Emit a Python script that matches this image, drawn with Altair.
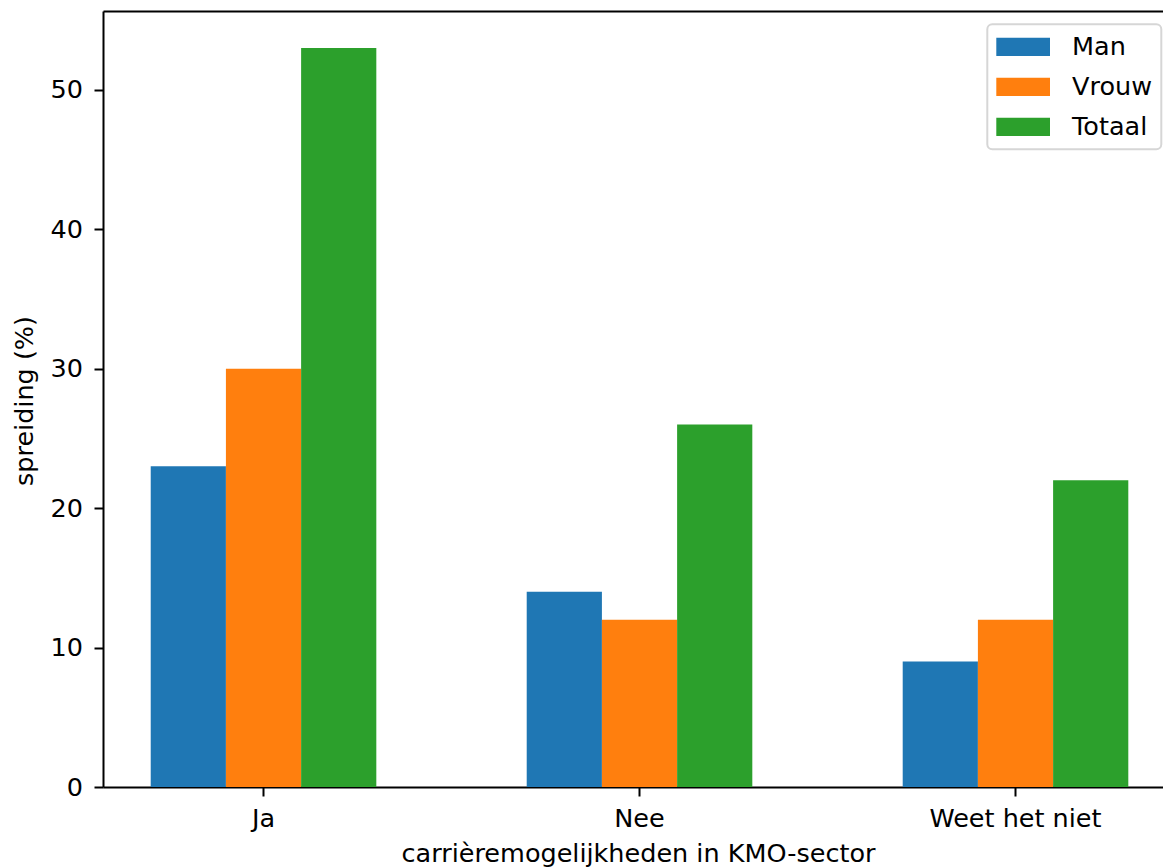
import altair as alt
import pandas as pd

categories = ["Ja", "Nee", "Weet het niet"]
series = ["Man", "Vrouw", "Totaal"]
man = [23, 14, 9]
vrouw = [30, 12, 12]
totaal = [53, 26, 22]
colors = ["#1f77b4", "#ff7f0e", "#2ca02c"]
y_ticks = [0, 10, 20, 30, 40, 50]

rows = []
for s, vals in zip(series, [man, vrouw, totaal]):
    for c, v in zip(categories, vals):
        rows.append({"cat": c, "serie": s, "val": v})
df = pd.DataFrame(rows)

W, H = 1060, 776
FONT = "DejaVu Sans"
FS = 25.5

xscale = alt.Scale(paddingInner=0.4, paddingOuter=0.1096, align=0.579)

bars = alt.Chart(df).mark_bar().encode(
    x=alt.X(
        "cat:N",
        sort=categories,
        scale=xscale,
        axis=alt.Axis(
            title="carrièremogelijkheden in KMO-sector",
            labelAngle=0,
            labelBaseline="alphabetic",
            labelPadding=30,
            tickSize=9,
            tickWidth=2,
            tickColor="black",
            domainColor="black",
            domainWidth=2,
            labelFontSize=FS,
            titleFontSize=FS,
            titleBaseline="alphabetic",
            titleY=74,
            titleX=535,
        ),
    ),
    xOffset=alt.XOffset("serie:N", sort=series),
    y=alt.Y(
        "val:Q",
        scale=alt.Scale(domain=[0, 55.65], nice=False, zero=True),
        axis=alt.Axis(
            title="spreiding (%)",
            values=y_ticks,
            grid=False,
            tickSize=9,
            tickWidth=2,
            tickColor="black",
            domainColor="black",
            domainWidth=2,
            labelPadding=11.5,
            labelFontSize=FS,
            titleFontSize=FS,
            titleAngle=270,
            titleBaseline="alphabetic",
            titleAlign="center",
            titleX=-70.5,
            titleY=H / 2 + 1.5,
        ),
    ),
    color=alt.Color(
        "serie:N",
        sort=series,
        scale=alt.Scale(domain=series, range=colors),
        legend=alt.Legend(
            title=None,
            orient="none",
            legendX=884.3,
            legendY=13.3,
            symbolType="M-2,-0.68H2V0.68H-2Z",
            symbolSize=721,
            symbolOffset=13.35,
            symbolStrokeWidth=0,
            labelFontSize=FS,
            labelFont=FONT,
            labelColor="black",
            labelOffset=35.4,
            fillColor="rgba(255,255,255,0.8)",
        ),
    ),
)

top = alt.Chart(df).mark_point(opacity=0).encode(
    x=alt.X(
        "cat:N",
        sort=categories,
        axis=alt.Axis(
            orient="top",
            labels=False,
            ticks=False,
            title=None,
            domainColor="black",
            domainWidth=2,
        ),
    ),
)

chart = (
    alt.layer(bars, top)
    .resolve_axis(x="independent")
    .properties(
        width=W,
        height=H,
        padding={"left": 95, "top": 3, "right": 0, "bottom": 81},
        autosize=alt.AutoSizeParams(type="none"),
    )
    .configure_view(stroke="transparent")
    .configure_axis(
        labelFont=FONT,
        titleFont=FONT,
        labelColor="black",
        titleColor="black",
        titleFontWeight="normal",
    )
    .configure_legend(
        strokeColor="#d6d6d6",
        strokeWidth=2,
        cornerRadius=5,
        padding=9,
        rowPadding=13,
    )
)

chart.save("out.html", embed_options={"renderer": "svg", "actions": False})
